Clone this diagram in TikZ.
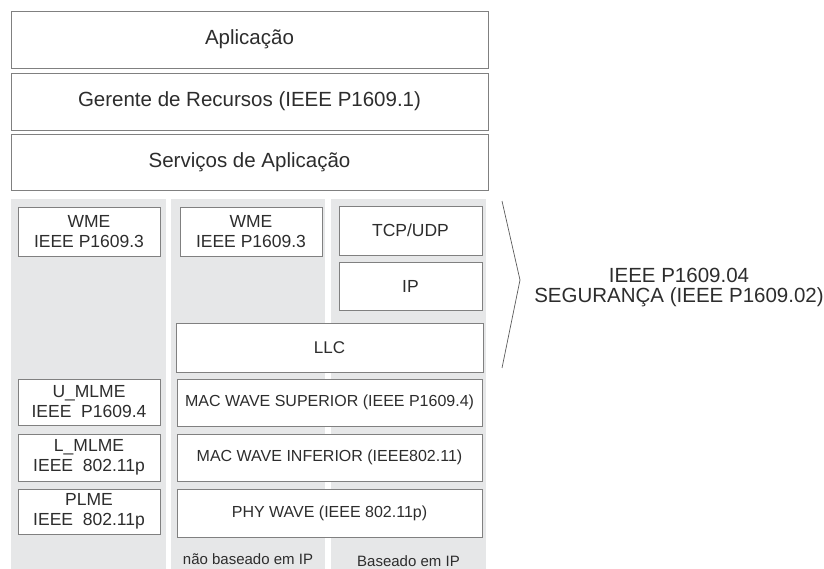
\documentclass[tikz,border=0pt]{standalone}
\usepackage{fontspec}
\setmainfont{Liberation Sans}
\usepackage{xcolor}
\usetikzlibrary{positioning}

\definecolor{colfundo}{RGB}{230,231,232}
\definecolor{colborda}{RGB}{128,128,128}
\definecolor{coltexto}{RGB}{45,45,45}

\begin{document}
\begin{tikzpicture}[x=1pt, y=-1pt, every node/.style={text=coltexto}]
	\tikzstyle{camada}=[rectangle, draw=colborda, fill=white, line width=0.9pt, inner sep=0pt, font=\fontsize{20.5}{22}\selectfont]
	\tikzstyle{bloco}=[camada, align=center, font=\fontsize{17.5}{20}\selectfont]
	\tikzstyle{mac}=[camada, font=\fontsize{16}{18}\selectfont]
	\tikzstyle{coluna}=[rectangle, fill=colfundo, inner sep=0pt]
	\tikzstyle{rotulo}=[font=\fontsize{15}{17}\selectfont]

	\useasboundingbox (0,0) rectangle (824,569);

	% pilha superior
	\node (apl) at (249.5,39.5) [camada, minimum width=477, minimum height=57] {Aplicação};
	\node (ger) at (249.5,101.5) [camada, minimum width=477, minimum height=57] {Gerente de Recursos (IEEE P1609.1)};
	\node (serv) at (249.5,162) [camada, minimum width=477, minimum height=56] {Serviços de Aplicação};

	% colunas de fundo
	\node (col1) at (88.5,384) [coluna, minimum width=155, minimum height=370] {};
	\node (col2) at (248,384) [coluna, minimum width=154, minimum height=370] {};
	\node (col3) at (408.5,384) [coluna, minimum width=155, minimum height=370] {};

	\node (wme1) at (89,231.5) [bloco, minimum width=142, minimum height=49] {WME\\IEEE P1609.3};
	\node (wme2) at (251,231.5) [bloco, minimum width=142, minimum height=49] {WME\\IEEE P1609.3};
	\node (tcp) at (410.5,230.5) [bloco, minimum width=143, minimum height=49] {TCP/UDP};
	\node (ip) at (410.5,286) [bloco, minimum width=143, minimum height=48] {IP};
	\node (llc) at (329.5,347.5) [camada, minimum width=307, minimum height=49, font=\fontsize{17}{19}\selectfont] {LLC};

	\node (umlme) at (89,402) [bloco, minimum width=142, minimum height=46] {U\_MLME\\IEEE~~P1609.4};
	\node (lmlme) at (89,457.5) [bloco, minimum width=142, minimum height=47] {L\_MLME\\IEEE~~802.11p};
	\node (plme) at (89,511.5) [bloco, minimum width=142, minimum height=45] {PLME\\IEEE~~802.11p};

	\node (macsup) at (329.5,402.5) [mac, minimum width=305, minimum height=47] {MAC WAVE SUPERIOR (IEEE P1609.4)};
	\node (macinf) at (329.5,457.5) [mac, minimum width=305, minimum height=47] {MAC WAVE INFERIOR (IEEE802.11)};
	\node (phy) at (329.5,513) [mac, minimum width=305, minimum height=48] {PHY WAVE (IEEE 802.11p)};

	\node (naoip) at (248,564) [rotulo, anchor=base] {não baseado em IP};
	\node (simip) at (408.5,566) [rotulo, anchor=base] {Baseado em IP};

	% chave da seguranca
	\coordinate (ch1) at (502,201);
	\coordinate (ch2) at (520,280);
	\coordinate (ch3) at (502,368);
	\draw [colborda!70!black, line width=0.7pt] (ch1) -- (ch2) -- (ch3);

	\node (seg) at (679,288) [align=center, font=\fontsize{20.5}{20}\selectfont] {IEEE P1609.04\\SEGURANÇA (IEEE P1609.02)};
\end{tikzpicture}
\end{document}
